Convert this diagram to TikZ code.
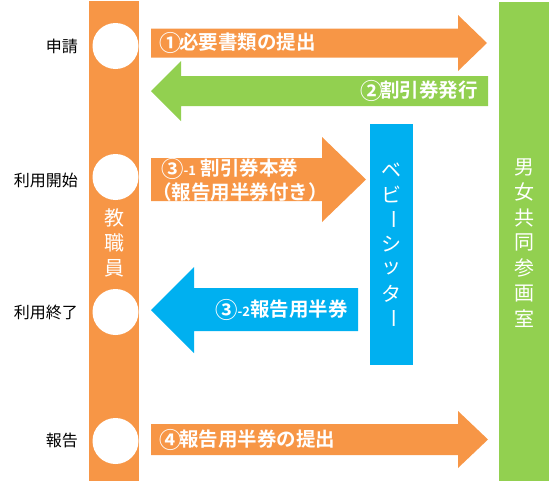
\documentclass[tikz,border=0pt]{standalone}
\usepackage{fontspec}
\usepackage{graphicx}
\newfontfamily\jp{Noto Sans CJK JP}
\newfontfamily\jpb{Noto Sans CJK JP Bold}
\definecolor{cOrange}{HTML}{F79646}
\definecolor{cGreen}{HTML}{92D050}
\definecolor{cBlue}{HTML}{00B0F0}
\tikzset{
  lbl/.style={font=\jp\fontsize{16}{18}\selectfont, text=black, anchor=east, inner sep=0pt},
  atxt/.style={font=\jpb\fontsize{19.5}{22}\selectfont, text=white, inner sep=0pt},
  vtxt/.style={font=\jp\fontsize{20}{22}\selectfont, text=white, inner sep=0pt},
  dot/.style={circle, fill=white, minimum size=46pt, inner sep=0pt},
}
\newcommand\circnum[1]{\makebox[1.02em][l]{\raisebox{-0.08em}{\scalebox{1.15}{#1}}}}
\begin{document}
\begin{tikzpicture}[x=1pt,y=-1pt]
\useasboundingbox (0,0) rectangle (550,482);
% columns
\fill[cOrange] (89,1) rectangle (139,481);
\fill[cGreen] (499,2) rectangle (549,481);
\fill[cBlue] (370,124) rectangle (413,365);
% circles
\node[dot] (c1) at (115.5,46) {};
\node[dot] (c2) at (115.5,177) {};
\node[dot] (c3) at (115.5,312) {};
\node[dot] (c4) at (115.5,441) {};
% left labels
\node[lbl] (l1) at (78,46) {申請};
\node[lbl] (l2) at (78,180) {利用開始};
\node[lbl] (l3) at (78,312) {利用終了};
\node[lbl] (l4) at (78,440) {報告};
% arrow 1
\fill[cOrange] (151,28.5) -- (458,28.5) -- (458,15) -- (487,43) -- (458,71) -- (458,57.5) -- (151,57.5) -- cycle;
\node[atxt, anchor=west] (t1) at (159,43) {\circnum{①}必要書類の提出};
% arrow 2
\fill[cGreen] (488,76) -- (181,76) -- (181,61) -- (151,91) -- (181,121) -- (181,106) -- (488,106) -- cycle;
\node[atxt, anchor=east] (t2) at (478,91) {\circnum{②}割引券発行};
% arrow 3-1
\fill[cOrange] (151,158) -- (322,158) -- (322,137) -- (366,179.5) -- (322,222) -- (322,201) -- (151,201) -- cycle;
\node[atxt, anchor=west] (t31) at (161,169) {\raisebox{-0.08em}{\scalebox{1.15}{③}}{\fontsize{13}{15}\selectfont -1} 割引券本券};
\node[atxt, anchor=west] (t31b) at (152,192) {（報告用半券付き）};
% arrow 3-2
\fill[cBlue] (358,288) -- (194,288) -- (194,267) -- (151,310) -- (194,353) -- (194,331) -- (358,331) -- cycle;
\node[atxt, anchor=west] (t32) at (215,310) {\raisebox{-0.08em}{\scalebox{1.15}{③}}{\fontsize{13}{15}\selectfont -2}報告用半券};
% arrow 4
\fill[cOrange] (151,424) -- (458,424) -- (458,411) -- (488,439.5) -- (458,468) -- (458,455) -- (151,455) -- cycle;
\node[atxt, anchor=west] (t4) at (159,440) {\circnum{④}報告用半券の提出};
% vertical texts
\foreach \ch [count=\i from 0] in {教,職,員}
  \node[vtxt] (k\i) at (114,218+25*\i) {\ch};
\node[vtxt] (b0) at (391,170) {ベ};
\node[vtxt] (b1) at (391,194.7) {ビ};
\node[vtxt, rotate=-90] (b2) at (391,219.4) {ー};
\node[vtxt] (b3) at (391,244.1) {シ};
\node[vtxt] (b4) at (391,268.8) {ッ};
\node[vtxt] (b5) at (391,293.5) {タ};
\node[vtxt, rotate=-90] (b6) at (391,318.2) {ー};
\foreach \ch [count=\i from 0] in {男,女,共,同,参,画,室}
  \node[vtxt] (g\i) at (524,167+25.3*\i) {\ch};
\end{tikzpicture}
\end{document}
